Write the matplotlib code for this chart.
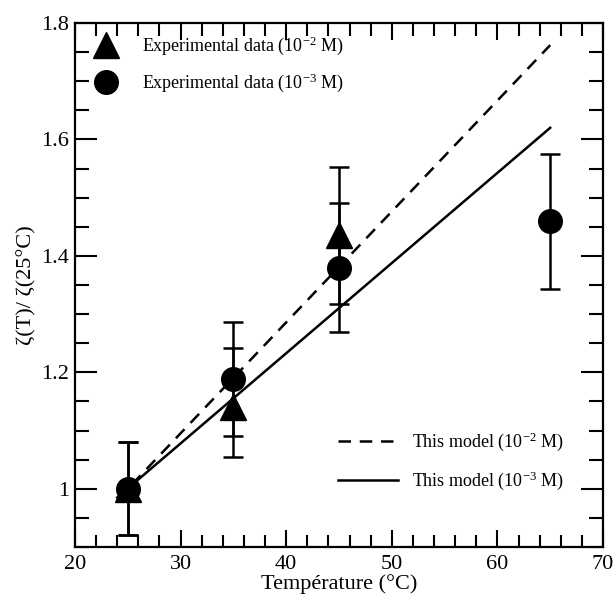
import numpy as np
import matplotlib
matplotlib.use('Agg')
import matplotlib.pyplot as plt
from matplotlib.ticker import MultipleLocator, FixedLocator, FixedFormatter

# ============================================================
# DATA
# ============================================================
temp_tri = [25, 35, 45]
zeta_tri = [1.0, 1.14, 1.436]
tri_low = [0.92, 1.055, 1.318]
tri_high = [1.08, 1.242, 1.553]

temp_circ = [25, 35, 45, 65]
zeta_circ = [1.0, 1.189, 1.379, 1.46]
circ_low = [0.92, 1.09, 1.27, 1.343]
circ_high = [1.08, 1.287, 1.491, 1.575]

model_temp = [24, 65]
model_1e2 = [0.981, 1.762]
model_1e3 = [0.985, 1.62]

yticks = [1.0, 1.2, 1.4, 1.6, 1.8]
ytick_labels = ['1', '1.2', '1.4', '1.6', '1.8']

# ============================================================
# STYLE
# ============================================================
plt.rcParams['font.family'] = ['Liberation Serif', 'DejaVu Serif']
plt.rcParams['mathtext.fontset'] = 'custom'
plt.rcParams['mathtext.rm'] = 'Liberation Serif'
plt.rcParams['mathtext.default'] = 'regular'

fig = plt.figure(figsize=(6.13, 5.97), dpi=100)
ax = fig.add_axes([75 / 613, 1 - 547 / 597, 528 / 613, 524 / 597])

# ============================================================
# MODEL LINES
# ============================================================
ln_dash, = ax.plot(model_temp, model_1e2, color='black', linestyle=(0, (5, 3.5)),
                   linewidth=1.8, label='This model (10$^{-2}$ M)')
ln_solid, = ax.plot(model_temp, model_1e3, color='black', linestyle='-',
                    linewidth=1.8, label='This model (10$^{-3}$ M)')

# ============================================================
# EXPERIMENTAL DATA
# ============================================================
zt = np.array(zeta_tri)
zc = np.array(zeta_circ)

ax.errorbar(temp_circ, zc, yerr=[zc - np.array(circ_low), np.array(circ_high) - zc],
            fmt='none', ecolor='black', elinewidth=1.8, capsize=7, capthick=1.8)
ax.errorbar(temp_tri, zt, yerr=[zt - np.array(tri_low), np.array(tri_high) - zt],
            fmt='none', ecolor='black', elinewidth=1.8, capsize=7, capthick=1.8)

pt_circ, = ax.plot(temp_circ, zeta_circ, 'o', color='black', markersize=17,
                   linestyle='none', label='Experimental data (10$^{-3}$ M)')
pt_tri, = ax.plot(temp_tri, zeta_tri, '^', color='black', markersize=19,
                  linestyle='none', label='Experimental data (10$^{-2}$ M)')

# ============================================================
# AXES
# ============================================================
ax.set_xlim(20, 70)
ax.set_ylim(0.9, 1.8)
ax.xaxis.set_major_locator(MultipleLocator(10))
ax.xaxis.set_minor_locator(MultipleLocator(2))
ax.yaxis.set_major_locator(FixedLocator(yticks))
ax.yaxis.set_major_formatter(FixedFormatter(ytick_labels))
ax.yaxis.set_minor_locator(MultipleLocator(0.05))

ax.tick_params(which='both', direction='in', top=True, right=True,
               width=1.5, labelsize=16, colors='black')
ax.tick_params(axis='x', which='major', length=12, pad=6)
ax.tick_params(axis='x', which='minor', length=9)
ax.tick_params(axis='y', which='major', length=16, pad=4)
ax.tick_params(axis='y', which='minor', length=10)

for sp in ax.spines.values():
    sp.set_linewidth(1.6)

ax.set_xlabel('Température (°C)', fontsize=16, labelpad=0)
ax.set_ylabel('ζ(T)/ ζ(25°C)', fontsize=16, labelpad=4)

# ============================================================
# LEGENDS
# ============================================================
leg1 = ax.legend([pt_tri, pt_circ], [pt_tri.get_label(), pt_circ.get_label()],
                 loc='upper left', bbox_to_anchor=(0, 1 - 6 / 524), frameon=False,
                 fontsize=13, handlelength=2.8, handletextpad=0.6,
                 borderpad=0.3, borderaxespad=0, labelspacing=0.8,
                 markerscale=1.0)
ax.add_artist(leg1)

ax.legend([ln_dash, ln_solid], [ln_dash.get_label(), ln_solid.get_label()],
          loc='lower left', bbox_to_anchor=(0.498, 0.105), frameon=False,
          fontsize=13, handlelength=3.3, handletextpad=0.8,
          borderpad=0, borderaxespad=0, labelspacing=0.9)

plt.savefig('out.png', dpi=100)
